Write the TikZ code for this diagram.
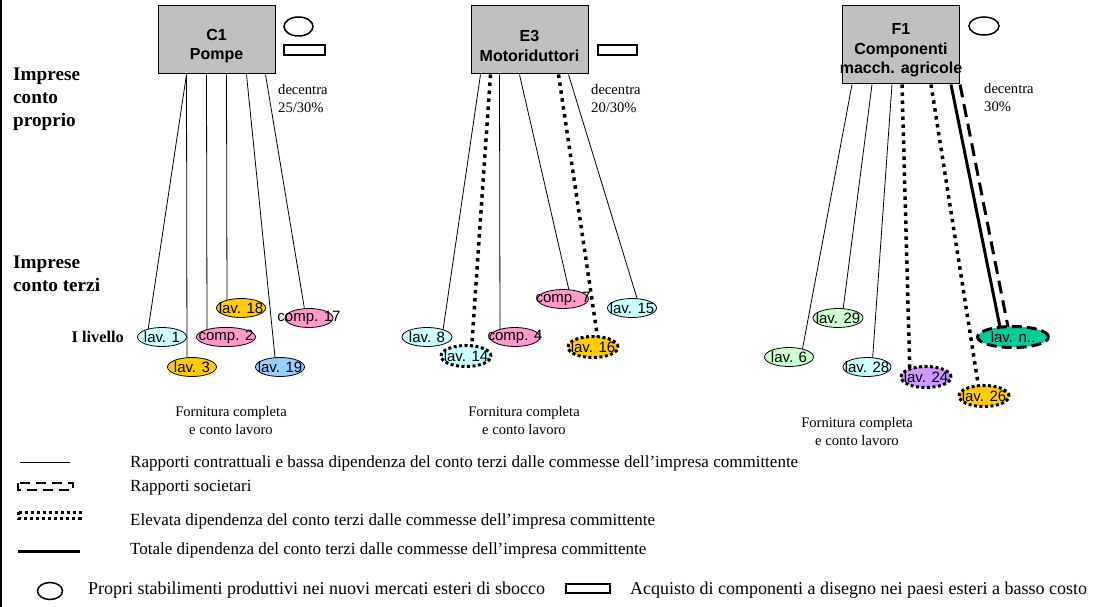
\documentclass[tikz,border=0pt]{standalone}
\usepackage{fontspec}
\setmainfont{Liberation Serif}
\setsansfont{Liberation Sans}
\usetikzlibrary{shapes.geometric}
\definecolor{boxgray}{HTML}{C0C0C0}
\definecolor{aqua}{HTML}{CCFFFF}
\definecolor{rose}{HTML}{FF99CC}
\definecolor{gold}{HTML}{FFCC00}
\definecolor{sky}{HTML}{99CCFF}
\definecolor{mint}{HTML}{CCFFCC}
\definecolor{lilac}{HTML}{CC99FF}
\definecolor{jade}{HTML}{00CC99}
\pgfdeclarelayer{background}
\pgfsetlayers{background,main}
\newcommand{\ovl}[1]{\makebox[0pt]{#1}}
\tikzset{%
    firm/.style={draw, fill=boxgray, line width=1pt, minimum width=117pt,
        minimum height=68pt, align=center, text height=43pt,
        font=\sffamily\bfseries\fontsize{16}{19.5}\selectfont},
    sub/.style={ellipse, draw, line width=0.8pt, inner sep=0pt,
        minimum width=49pt, minimum height=19pt,
        font=\sffamily\fontsize{15}{16}\selectfont},
    dotb/.style={line width=3pt, dash pattern=on 3pt off 2.5pt,
        minimum height=21pt},
    dashb/.style={line width=3pt, dash pattern=on 10pt off 5pt,
        minimum height=21pt},
    contr/.style={line width=0.8pt},
    dep/.style={line width=3.5pt, dash pattern=on 3.5pt off 4.5pt},
    total/.style={line width=3pt},
    soc/.style={line width=3pt, dash pattern=on 13pt off 7pt},
    head/.style={anchor=west, align=left, inner sep=0pt,
        font=\bfseries\fontsize{19.2}{23}\selectfont},
    note/.style={align=center, inner sep=0pt,
        font=\fontsize{14.6}{18}\selectfont},
    leg/.style={anchor=west, inner sep=0pt,
        font=\fontsize{17}{20}\selectfont},
    plant/.style={ellipse, draw, line width=1.5pt, inner sep=0pt},
    buy/.style={draw, line width=2pt, inner sep=0pt, minimum height=10pt}
}

\begin{document}
\begin{tikzpicture}[x=1pt, y=-1pt]

    \useasboundingbox (0, 0) rectangle (1120, 607);
    \draw[line width=1.5pt] (1, 0) -- (1, 607);

    %%%%%%%%%%%%
    % Committenti
    \node[firm] (c1) at (216.5, 40) {C1\\Pompe};
    \node[firm] (e3) at (529.5, 40) {E3\\Motoriduttori};
    \node[firm, minimum height=78pt, text height=60.5pt] (f1) at (901, 45)
        {F1\\Componenti\\\ovl{macch. agricole}};

    \node[plant, minimum width=29pt, minimum height=19pt] (c1-plant)
        at (298.5, 26.5) {};
    \node[buy, minimum width=41pt] (c1-buy) at (304.5, 50) {};
    \node[buy, minimum width=39pt] (e3-buy) at (617.5, 50) {};
    \node[plant, minimum width=30pt, minimum height=18pt] (f1-plant)
        at (984, 26) {};

    \node[note, anchor=west, align=left] (c1-dec) at (278, 99)
        {decentra\\25/30\%};
    \node[note, anchor=west, align=left] (e3-dec) at (591, 99)
        {decentra\\20/30\%};
    \node[note, anchor=west, align=left] (f1-dec) at (984, 98)
        {decentra\\30\%};

    % Livelli
    \node[head] (proprio) at (13, 99) {Imprese\\conto\\proprio};
    \node[head] (terzi) at (13, 274) {Imprese\\conto terzi};
    \node[anchor=east, inner sep=0pt,
        font=\bfseries\fontsize{16.3}{19}\selectfont] (livello)
        at (124, 337) {I livello};

    %%%%%%%%%%%%
    % Conto terzi
    \node[sub, fill=aqua] (l1) at (162, 337) {\ovl{lav. 1}};
    \node[sub, fill=gold] (l3) at (192, 367) {\ovl{lav. 3}};
    \node[sub, fill=rose, minimum width=59pt] (c2) at (226, 337)
        {\ovl{comp. 2}};
    \node[sub, fill=gold] (l18) at (241, 308) {\ovl{lav. 18}};
    \node[sub, fill=sky] (l19) at (280, 367) {\ovl{lav. 19}};
    \node[sub, fill=rose, minimum width=48pt] (c17) at (309, 318)
        {\ovl{comp. 17}};

    \node[sub, fill=aqua, minimum width=50pt] (l8) at (427, 337)
        {\ovl{lav. 8}};
    \node[sub, dotb, fill=aqua, minimum width=50pt] (l14) at (466, 356)
        {\ovl{lav. 14}};
    \node[sub, fill=rose, minimum width=50pt] (c4) at (515, 337)
        {\ovl{comp. 4}};
    \node[sub, fill=rose, minimum width=51pt] (c7) at (563, 299)
        {\ovl{comp. 7}};
    \node[sub, fill=aqua] (l15) at (632, 308) {\ovl{lav. 15}};
    \node[sub, dotb, fill=gold, minimum width=50pt] (l16) at (593, 347)
        {\ovl{lav. 16}};

    \node[sub, fill=mint] (l6) at (789, 357) {\ovl{lav. 6}};
    \node[sub, fill=mint, minimum width=50pt] (l29) at (838, 318)
        {\ovl{lav. 29}};
    \node[sub, fill=aqua, minimum width=48pt] (l28) at (867, 367)
        {\ovl{lav. 28}};
    \node[sub, dotb, fill=lilac, minimum width=50pt] (l24) at (926, 377)
        {\ovl{lav. 24}};
    \node[sub, dotb, fill=gold, minimum width=50pt] (l26) at (984, 396)
        {\ovl{lav. 26}};
    \node[sub, dashb, fill=jade, minimum width=71pt] (ln) at (1013, 337)
        {\ovl{lav. n..}};

    \node[note] (c1-forn) at (231, 421) {Fornitura completa\\e conto lavoro};
    \node[note] (e3-forn) at (524, 421) {Fornitura completa\\e conto lavoro};
    \node[note] (f1-forn) at (857, 432) {Fornitura completa\\e conto lavoro};

    % Rapporti
    \begin{pgfonlayer}{background}
        \foreach \firm/\dx/\sub/\ex/\kind in {%
            c1/29/l1/-15/contr, c1/29/l3/-5/contr, c1/49/c2/-19/contr,
            c1/69/l18/-14/contr, c1/89/l19/-4/contr, c1/108/c17/-3/contr,
            e3/10/l8/15/contr, e3/20/l14/5/dep, e3/29/c4/-15/contr,
            e3/49/c7/8/contr, e3/88/l16/6/dep, e3/98/l15/8/contr,
            f1/10/l6/12/contr, f1/30/l29/4/contr, f1/50/l28/5/contr,
            f1/60/l24/-16/dep, f1/89/l26/-4/dep, f1/109/ln/-11/total,
            f1/118/ln/-3/soc%
        }{%
            \draw[\kind] ([xshift=\dx pt] \firm.south west)
                -- ([xshift=\ex pt] \sub.center);
        };
    \end{pgfonlayer}

    %%%%%%%%%%%%
    % Legenda
    \draw[contr] (20, 462) -- (70, 462);
    \draw[line width=2.8pt, dash pattern=on 10pt off 6pt]
        (18, 483) rectangle (73, 490);
    \draw[line width=3pt, dash pattern=on 3pt off 3pt]
        (18, 512) rectangle (80, 518);
    \draw[total] (18, 551) -- (80, 551);
    \node[plant, minimum width=25pt, minimum height=17pt] (leg-plant)
        at (50, 591) {};
    \node[buy, minimum width=44pt, minimum height=9pt] (leg-buy)
        at (588, 588.5) {};

    \node[leg] (leg-contr) at (130, 463) {Rapporti contrattuali e bassa
        dipendenza del conto terzi dalle commesse dell’impresa committente};
    \node[leg] (leg-soc) at (130, 488) {Rapporti societari};
    \node[leg] (leg-dep) at (130, 521) {Elevata dipendenza del conto terzi
        dalle commesse dell’impresa committente};
    \node[leg] (leg-total) at (130, 550) {Totale dipendenza del conto terzi
        dalle commesse dell’impresa committente};
    \node[leg, font=\fontsize{18}{20}\selectfont] (leg-plant-txt)
        at (88, 590) {Propri stabilimenti produttivi nei nuovi mercati
        esteri di sbocco};
    \node[leg, font=\fontsize{18}{20}\selectfont] (leg-buy-txt)
        at (630, 590) {Acquisto di componenti a disegno nei paesi esteri
        a basso costo};

\end{tikzpicture}
\end{document}
